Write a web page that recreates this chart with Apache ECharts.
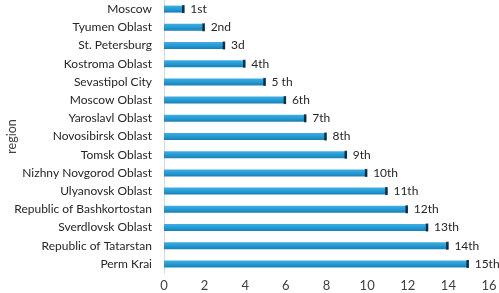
<!DOCTYPE html>
<html>
<head>
<meta charset="utf-8">
<script src="https://cdn.jsdelivr.net/npm/echarts@6/dist/echarts.min.js"></script>
<style>
  html, body { margin: 0; padding: 0; background: #fff; }
  #chart { width: 499px; height: 293px; }
</style>
</head>
<body>
<div id="chart"></div>
<script>
// regions, top to bottom
const regions = ['Moscow', 'Tyumen Oblast', 'St. Petersburg', 'Kostroma Oblast', 'Sevastipol City',
  'Moscow Oblast', 'Yaroslavl Oblast', 'Novosibirsk Oblast', 'Tomsk Oblast', 'Nizhny Novgorod Oblast',
  'Ulyanovsk Oblast', 'Republic of Bashkortostan', 'Sverdlovsk Oblast', 'Republic of Tatarstan', 'Perm Krai'];
const ranks = [1, 2, 3, 4, 5, 6, 7, 8, 9, 10, 11, 12, 13, 14, 15];
const rankLabels = ['1st', '2nd', '3d', '4th', '5 th', '6th', '7th', '8th', '9th', '10th',
  '11th', '12th', '13th', '14th', '15th'];

const font = 'Lato, "Open Sans", sans-serif';
const chart = echarts.init(document.getElementById('chart'));

const option = {
  animation: false,
  grid: { left: 164, right: 10, top: 0, bottom: 20, containLabel: false, outerBoundsMode: 'none' },
  xAxis: {
    type: 'value',
    min: 0,
    max: 16,
    interval: 2,
    axisLine: { show: false },
    axisTick: { show: false },
    splitLine: { show: false },
    axisLabel: { color: '#404040', fontSize: 13, fontFamily: font, margin: 6 }
  },
  yAxis: {
    type: 'category',
    inverse: true,
    data: regions,
    name: 'region',
    nameLocation: 'middle',
    nameRotate: 90,
    nameGap: 146,
    nameMoveOverlap: false,
    nameTextStyle: { color: '#404040', fontSize: 12.5, fontFamily: font },
    axisLine: { show: true, lineStyle: { color: '#d9d9d9', width: 1 } },
    axisTick: { show: false },
    axisLabel: { color: '#262626', fontSize: 12, fontFamily: font, margin: 12, interval: 0 }
  },
  series: [
    {
      type: 'bar',
      data: ranks,
      barWidth: 7,
      itemStyle: {
        color: new echarts.graphic.LinearGradient(0, 0, 0, 1, [
          { offset: 0, color: '#40aee2' },
          { offset: 0.5, color: '#259bd5' },
          { offset: 1, color: '#1a7fb3' }
        ])
      },
      label: {
        show: true,
        position: 'right',
        distance: 6,
        color: '#262626',
        fontSize: 12,
        fontFamily: font,
        formatter: p => rankLabels[p.dataIndex]
      }
    },
    {
      type: 'scatter',
      data: ranks.map((v, i) => [v, i]),
      symbol: 'rect',
      symbolSize: [2.5, 8],
      symbolOffset: [-1, 0],
      itemStyle: { color: '#111' },
      z: 5
    }
  ]
};

chart.setOption(option);
</script>
</body>
</html>
